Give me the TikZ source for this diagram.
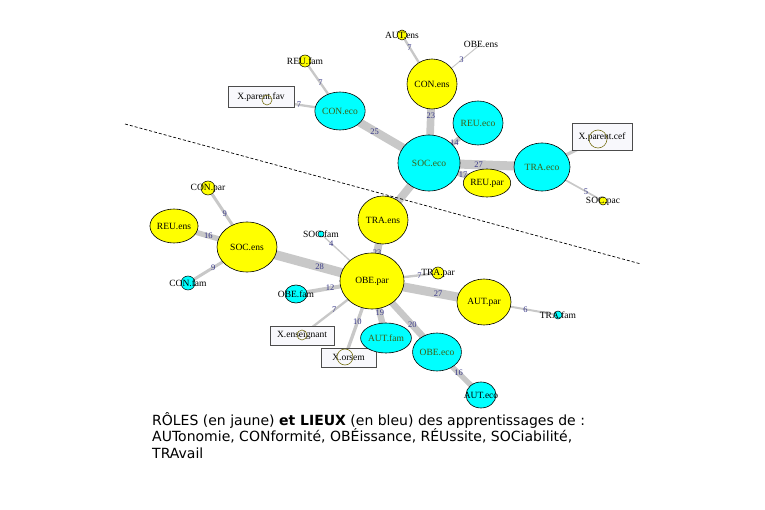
\documentclass[tikz,border=0pt]{standalone}
\usepackage{fontspec}
\setmainfont{Liberation Serif}
\newfontfamily\captionfont{DejaVu Sans}
\usetikzlibrary{shapes.geometric}
\pgfdeclarelayer{background}
\pgfsetlayers{background,main}
\definecolor{roleYellow}{RGB}{255,255,0}
\definecolor{placeCyan}{RGB}{0,255,255}
\definecolor{placeText}{RGB}{60,95,20}
\definecolor{weightBlue}{RGB}{55,55,135}
\definecolor{edgeGray}{RGB}{200,200,200}
\definecolor{boxFill}{RGB}{248,248,252}

\begin{document}
\begin{tikzpicture}
[x=1pt,y=-1pt,
  nodeDecorate/.style={shape=ellipse,inner sep=0pt,draw=black,line width=0.6pt,
    font=\fontsize{9.5}{9.5}\selectfont},
  roleNode/.style={nodeDecorate,fill=roleYellow,text=black},
  placeNode/.style={nodeDecorate,fill=placeCyan,text=placeText},
  smallDecorate/.style={shape=circle,inner sep=0pt,draw=black,line width=0.5pt},
  smallRole/.style={smallDecorate,fill=roleYellow},
  smallPlace/.style={smallDecorate,fill=placeCyan},
  textOnly/.style={shape=circle,inner sep=0pt},
  nameText/.style={font=\fontsize{9.5}{9.5}\selectfont,text=black,inner sep=0pt},
  suppBox/.style={shape=rectangle,draw=gray!60!black,line width=0.9pt,fill=boxFill,
    font=\fontsize{9.5}{9.5}\selectfont},
  suppMark/.style={shape=circle,inner sep=0pt,draw=olive!80!black,line width=0.6pt},
  lineDecorate/.style={-,draw=edgeGray},
  weightLabel/.style={font=\fontsize{8.5}{8.5}\selectfont,text=weightBlue,inner sep=0pt},
  sepLine/.style={draw=black,line width=0.7pt,dash pattern=on 3pt off 2pt}]
\useasboundingbox (0,0) rectangle (765,510);

%% supplementary boxes
\node (Xfav) at (261,97) [suppBox,minimum width=66pt,minimum height=21pt] {X.parent.fav};
\node (Xcef) at (602,137) [suppBox,minimum width=60pt,minimum height=27pt] {X.parent.cef};
\node (Xens) at (302,335.5) [suppBox,minimum width=64pt,minimum height=19pt] {X.enseignant};
\node (Xsem) at (348.5,357.5) [suppBox,minimum width=55pt,minimum height=19pt] {X.orsem};
\foreach \nodename/\x/\y/\r in {
  Xfavpt/267/100/5, Xcefpt/598/139/9, Xenspt/302/335/5, Xsempt/345/357/8}
{
  \node (\nodename) at (\x,\y) [suppMark,minimum size={2*\r*1pt}] {};
}

%% roles and places
\foreach \nodename/\x/\y/\rx/\ry/\kind/\txt in {
  CONens/432/84/25/25/roleNode/CON.ens,
  CONeco/340/111/24/19/placeNode/CON.eco,
  REUeco/478/123/25/22/placeNode/REU.eco,
  SOCeco/429/163/31/28/placeNode/SOC.eco,
  TRAeco/542/167/28/24/placeNode/TRA.eco,
  REUpar/487/183/16/14/roleNode/REU.par,
  REUens/174/226/17/17/roleNode/REU.ens,
  SOCens/247/247/30/25/roleNode/SOC.ens,
  TRAens/383/220/25/24/roleNode/TRA.ens,
  OBEpar/372/281/32/28/roleNode/OBE.par,
  AUTpar/484/302/27/23/roleNode/AUT.par,
  OBEfam/296/294/11/9/placeNode/{},
  AUTfam/386/338/18/15/placeNode/AUT.fam,
  OBEeco/437/352/24/19/placeNode/OBE.eco,
  AUTeco/481/395/15/13/placeNode/{}}
{
  \node (\nodename) at (\x,\y) [\kind,minimum width={2*\rx*1pt},minimum height={2*\ry*1pt}] {\txt};
}
\foreach \nodename/\x/\y/\r/\kind/\txt in {
  AUTens/402/35/5/smallRole/AUT.ens,
  OBEens/481/44/0/textOnly/OBE.ens,
  REUfam/305/61/6/smallRole/REU.fam,
  SOCpac/603/201/4/smallRole/SOC.pac,
  CONpar/208/188/7/smallRole/CON.par,
  CONfam/188/283/7/smallPlace/CON.fam,
  SOCfam/321/234/3/smallPlace/SOC.fam,
  TRApar/438/273/6/smallRole/TRA.par,
  TRAfam/558/315/4/smallPlace/TRA.fam}
{
  \node (\nodename) at (\x,\y) [\kind,minimum size={2*\r*1pt},label={[nameText]center:\txt}] {};
}
\node (OBEfamtxt) at (OBEfam) [nameText] {OBE.fam};
\node (AUTecotxt) at (AUTeco) [nameText] {AUT.eco};

%% weighted edges
\begin{pgfonlayer}{background}
\foreach \startnode/\endnode/\w/\p/\lab in {
  CONens/AUTens/7/.75/7, CONens/OBEens/3/.6/3, CONeco/REUfam/7/.56/7,
  CONeco/Xfavpt/7/.56/7, SOCeco/CONeco/25/.61/25, SOCeco/CONens/23/.6/23,
  SOCeco/REUeco/14/.52/14, SOCeco/TRAeco/27/.44/27, SOCeco/REUpar/17/.59/17,
  SOCeco/TRAens/24/.5/{}, TRAeco/Xcefpt/10/.71/10, TRAeco/SOCpac/5/.72/5,
  SOCens/CONpar/9/.57/9, SOCens/REUens/16/.53/16, SOCens/CONfam/9/.57/9,
  OBEpar/SOCens/28/.42/28, OBEpar/SOCfam/4/.8/4, OBEpar/TRAens/23/.47/23,
  OBEpar/OBEfam/12/.55/12, OBEpar/TRApar/7/.72/7, OBEpar/AUTpar/27/.59/27,
  AUTpar/TRAfam/6/.56/6, OBEpar/Xenspt/7/.54/7, OBEpar/Xsempt/10/.54/10,
  OBEpar/AUTfam/19/.56/19, OBEpar/OBEeco/20/.62/20, OBEeco/AUTeco/16/.49/16}
{
  \draw[lineDecorate,line width={\w*1pt/3}] (\startnode.center) -- (\endnode.center)
    node[weightLabel,pos=\p] {\lab};
}
\end{pgfonlayer}

%% separating line
\coordinate (sepA) at (125,124);
\coordinate (sepB) at (641,264);
\draw[sepLine] (sepA) -- (sepB);

%% caption
\node (legend) at (152,412) [anchor=north west,align=left,inner sep=0pt,
  font=\captionfont\fontsize{14}{16.5}\selectfont]
  {RÔLES (en jaune) \textbf{et LIEUX} (en bleu) des apprentissages de :\\
   AUTonomie, CONformité, OBÉissance, RÉUssite, SOCiabilité,\\
   TRAvail};
\end{tikzpicture}
\end{document}
